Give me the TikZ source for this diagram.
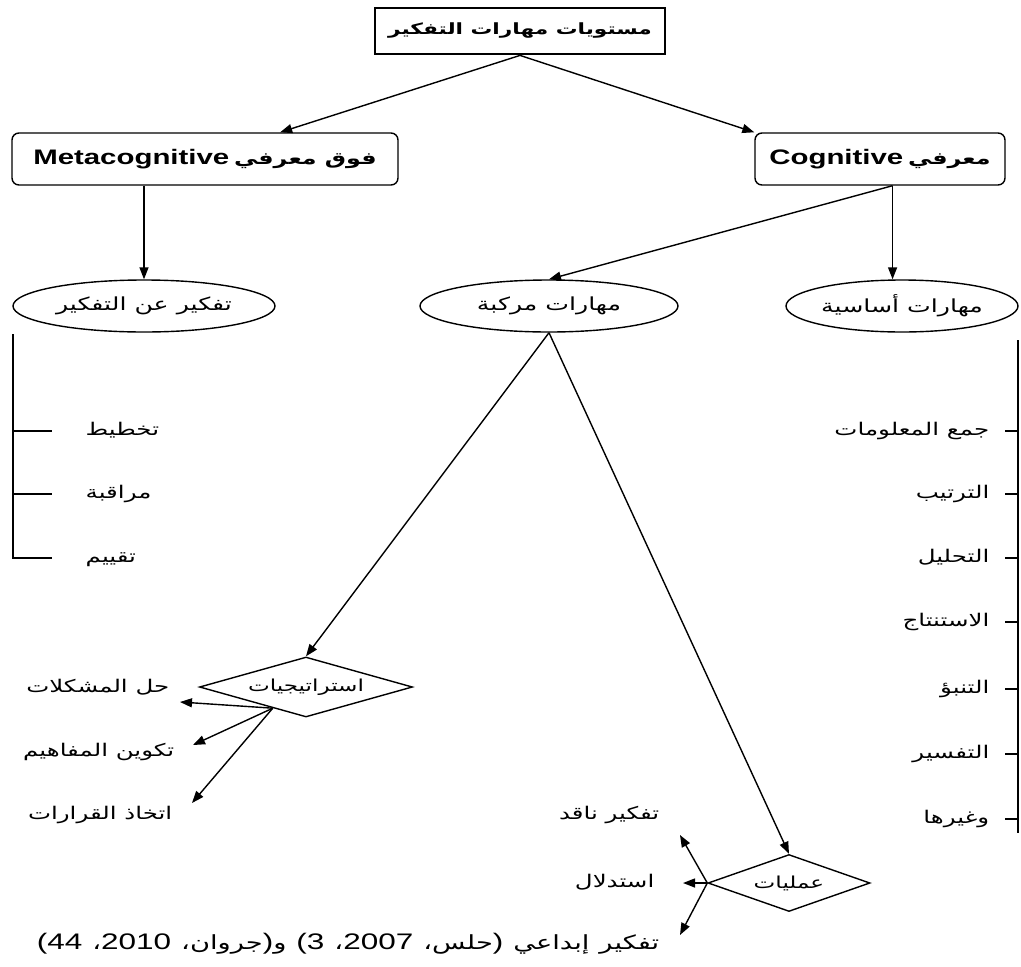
\documentclass[tikz,border=0pt]{standalone}
\usepackage{fontspec}
\usetikzlibrary{shapes.geometric,arrows.meta,calc}
\setmainfont{Liberation Sans}
\newfontfamily\arf[Script=Arabic,FakeStretch=1.4]{DejaVu Sans}
\newfontfamily\latf[FakeStretch=1.4]{Liberation Sans}
\TeXXeTstate=1
\newcommand\RL[1]{{\arf\beginR #1\endR}}
\newcommand\AW[1]{\mbox{\arf #1}}
\newcommand\LN[1]{{\latf\fontsize{22.5}{26}\selectfont #1}}
\newcommand\SP{\hspace{10pt}}
\begin{document}
\begin{tikzpicture}[x=1pt,y=-1pt,line width=1.4pt,
  >={Triangle[length=12pt,width=9pt]},
  titlebox/.style={draw,line width=2.8pt,minimum width=290,minimum height=46,inner sep=0pt,font=\fontsize{15.5}{18}\selectfont\bfseries},
  rbox/.style={draw,rounded corners=7pt,minimum height=52,inner sep=0pt,font=\fontsize{17}{20}\selectfont\bfseries},
  oval/.style={draw,ellipse,minimum height=52,inner sep=0pt,font=\fontsize{18}{21}\selectfont},
  dia/.style={draw,diamond,inner sep=0pt,font=\fontsize{16.5}{20}\selectfont},
  lbl/.style={inner sep=0pt,text height=13pt,text depth=5pt,font=\fontsize{17.5}{21}\selectfont}]
\useasboundingbox (0,0) rectangle (1021,967);
% top
\node[titlebox] (title) at (520,31) {\RL{مستويات مهارات التفكير}};
\node[rbox,minimum width=386] (meta) at (205,159) {{\latf\fontsize{21}{24}\selectfont\bfseries Metacognitive}\ \RL{فوق معرفي}};
\node[rbox,minimum width=250] (cog) at (880,159) {{\latf\fontsize{21}{24}\selectfont\bfseries Cognitive}\ \RL{معرفي}};
\draw[->] (title.south) -- ($(meta.north west)!0.694!(meta.north east)$);
\draw[->] (title.south) -- (cog.north west);
% ellipses
\node[oval,minimum width=262] (ell1) at (144,306) {\RL{تفكير عن التفكير}};
\node[oval,minimum width=258] (ell2) at (549,306) {\RL{مهارات مركبة}};
\node[oval,minimum width=232] (ell3) at (902,306) {\RL{مهارات أساسية}};
\draw[->] (meta.south -| ell1.north) -- (ell1.north);
\coordinate (cogfork) at ($(cog.south west)!0.55!(cog.south east)$);
\draw[->] (cogfork) -- (cogfork |- ell3.north);
\draw[->] (cogfork) -- (ell2.north);
% left list
\coordinate (ltop) at (13,334);
\node[lbl,anchor=west] (l1) at (85,431) {\RL{تخطيط}};
\node[lbl,anchor=west] (l2) at (85,494) {\RL{مراقبة}};
\node[lbl,anchor=west] (l3) at (85,558) {\RL{تقييم}};
\draw (ltop) -- (ltop |- l3.west) -- ([xshift=-33pt]l3.west);
\draw (ltop |- l1.west) -- ([xshift=-33pt]l1.west);
\draw (ltop |- l2.west) -- ([xshift=-33pt]l2.west);
% right list
\coordinate (rtop) at (1018,340);
\coordinate (rbot) at (1018,833);
\node[lbl,anchor=east] (r1) at (990,431) {\RL{جمع المعلومات}};
\node[lbl,anchor=east] (r2) at (990,494) {\RL{الترتيب}};
\node[lbl,anchor=east] (r3) at (990,558) {\RL{التحليل}};
\node[lbl,anchor=east] (r4) at (990,622) {\RL{الاستنتاج}};
\node[lbl,anchor=east] (r5) at (990,689) {\RL{التنبؤ}};
\node[lbl,anchor=east] (r6) at (990,754) {\RL{التفسير}};
\node[lbl,anchor=east] (r7) at (990,819) {\RL{وغيرها}};
\draw (rtop) -- (rbot);
\foreach \r in {r1,r2,r3,r4,r5,r6,r7}
  \draw ([xshift=15pt]\r.east) -- (\r.east -| rtop);
% strategies
\node[dia,aspect=3.5,minimum width=213,minimum height=60] (strat) at (306,687) {\RL{استراتيجيات}};
\draw[->] (ell2.south) -- (strat.north);
\coordinate (sfork) at ($(strat.west)!0.69!(strat.south)$);
\node[lbl,anchor=east] (s1) at (170,688) {\RL{حل المشكلات}};
\node[lbl,anchor=east] (s2) at (175,752) {\RL{تكوين المفاهيم}};
\node[lbl,anchor=east] (s3) at (173,815) {\RL{اتخاذ القرارات}};
\draw[->] (sfork) -- ([xshift=10pt,yshift=-14pt]s1.east);
\draw[->] (sfork) -- ([xshift=18pt,yshift=7pt]s2.east);
\draw[->] (sfork) -- ([xshift=19pt,yshift=12pt]s3.east);
% operations
\node[dia,aspect=2.8,minimum width=162,minimum height=57] (ops) at (789,883) {\RL{عمليات}};
\draw[->] (ell2.south) -- (ops.north);
\node[lbl,anchor=east] (o1) at (660,815) {\RL{تفكير ناقد}};
\node[lbl,anchor=east] (o2) at (655,883) {\RL{استدلال}};
\node[lbl,anchor=east,font=\fontsize{19.5}{23}\selectfont] (o3) at (660,945) {\LN{(44}\SP\AW{،}\LN{2010}\SP\AW{،}\AW{جروان}\LN{)}\AW{و}\SP\LN{(3}\SP\AW{،}\LN{2007}\SP\AW{،}\AW{حلس}\LN{)}\SP\AW{إبداعي}\SP\AW{تفكير}};
\draw[->] (ops.west) -- ([xshift=20pt,yshift=-20pt]o1.east);
\draw[->] (ops.west) -- ([xshift=28pt]o2.east);
\draw[->] (ops.west) -- ([xshift=20pt,yshift=10pt]o3.east);
\end{tikzpicture}
\end{document}
